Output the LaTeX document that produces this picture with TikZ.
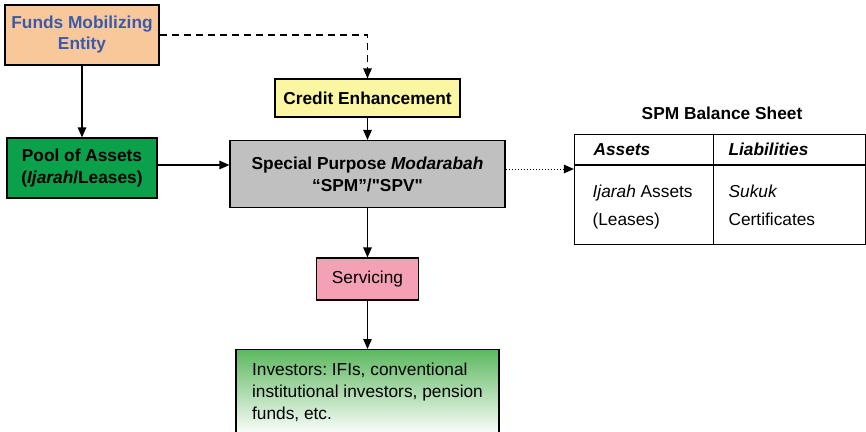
\documentclass[tikz,border=0pt]{standalone}
\usepackage{fontspec}
\setmainfont{Liberation Sans}
\usepackage{tikz}
\usepackage{xcolor}
\usetikzlibrary{positioning,calc,arrows.meta}
\definecolor{fmeblue}{HTML}{3B5BA9}
\definecolor{peach}{HTML}{F9C89A}
\definecolor{poolgreen}{HTML}{0BA14B}
\definecolor{credyellow}{HTML}{FAF6A2}
\definecolor{spmgray}{HTML}{C0C0C0}
\definecolor{servpink}{HTML}{F4A1B5}
\definecolor{invgreen}{HTML}{5CB85F}
\frenchspacing

\begin{document}
\begin{tikzpicture}[x=1pt,y=-1pt,line width=1.2pt,
    >={Triangle[length=10pt,width=8.5pt]},
    box/.style={draw,inner sep=0pt,align=center,font=\fontsize{17.3}{21}\selectfont},
    boldbox/.style={box,font=\bfseries\fontsize{17.3}{22}\selectfont},
    cell/.style={anchor=base west,inner sep=0pt,font=\fontsize{17.3}{21}\selectfont}]
        \useasboundingbox (0,0) rectangle (866,431);

        \node[boldbox,fill=peach,text=fmeblue,minimum width=154pt,minimum height=60pt] (fme) at (82,35) {Funds Mobilizing\\[-1pt]Entity};
        \node[boldbox,fill=poolgreen,minimum width=150pt,minimum height=60pt] (pool) at (82,168) {Pool of Assets\\(\textit{Ijarah}/Leases)};
        \node[boldbox,fill=credyellow,minimum width=185pt,minimum height=38pt] (credit) at (367.5,98) {Credit Enhancement};
        \node[boldbox,fill=spmgray,minimum width=275pt,minimum height=67pt] (spm) at (367.5,174) {Special Purpose \textit{Modarabah}\\“SPM”/\textquotedbl SPV\textquotedbl};
        \node[box,fill=servpink,minimum width=102pt,minimum height=42pt] (serv) at (367.5,279) {Servicing};
        \node[draw,anchor=north,top color=invgreen,bottom color=white,minimum width=263pt,inner xsep=0pt,inner ysep=13.5pt,align=left,font=\fontsize{17.3}{22}\selectfont] (inv) at (367.5,349) {Investors: IFIs, conventional\\institutional investors, pension\\funds, etc.};

        % balance sheet
        \node[font=\bfseries\fontsize{17.3}{21}\selectfont] (title) at (722,113) {SPM Balance Sheet};
        \node[draw,inner sep=0pt,minimum width=291pt,minimum height=110pt] (sheet) at (720,189.5) {};
        \draw ([yshift=-31pt]sheet.north west) -- ([yshift=-31pt]sheet.north east);
        \draw ([xshift=139.5pt]sheet.north west) -- ([xshift=139.5pt]sheet.south west);
        \node[cell,font=\bfseries\itshape\fontsize{17.3}{21}\selectfont] (assets) at (593,155) {Assets};
        \node[cell,font=\bfseries\itshape\fontsize{17.3}{21}\selectfont] (liab) at (728,155) {Liabilities};
        \node[cell] (ijarah) at (592,197) {\textit{Ijarah} Assets};
        \node[cell] (leases) at (592,225) {(Leases)};
        \node[cell] (sukuk) at (728,197) {\textit{Sukuk}};
        \node[cell] (cert) at (728,225) {Certificates};

        % connectors
        \draw[->] (fme) -- (pool);
        \draw[->,dash pattern=on 7pt off 5pt] (fme.east) -| (credit.north);
        \draw[->] (credit) -- (spm);
        \draw[->] (pool.east) ++(0,-3) coordinate (p) -- (p -| spm.west);
        \draw[->,line width=1pt,dash pattern=on 1.5pt off 1.5pt] (spm.east) ++(0,-5) coordinate (d) -- (d -| sheet.west);
        \draw[->] (spm) -- (serv);
        \draw[->] (serv) -- (inv);
    \end{tikzpicture}
\end{document}
